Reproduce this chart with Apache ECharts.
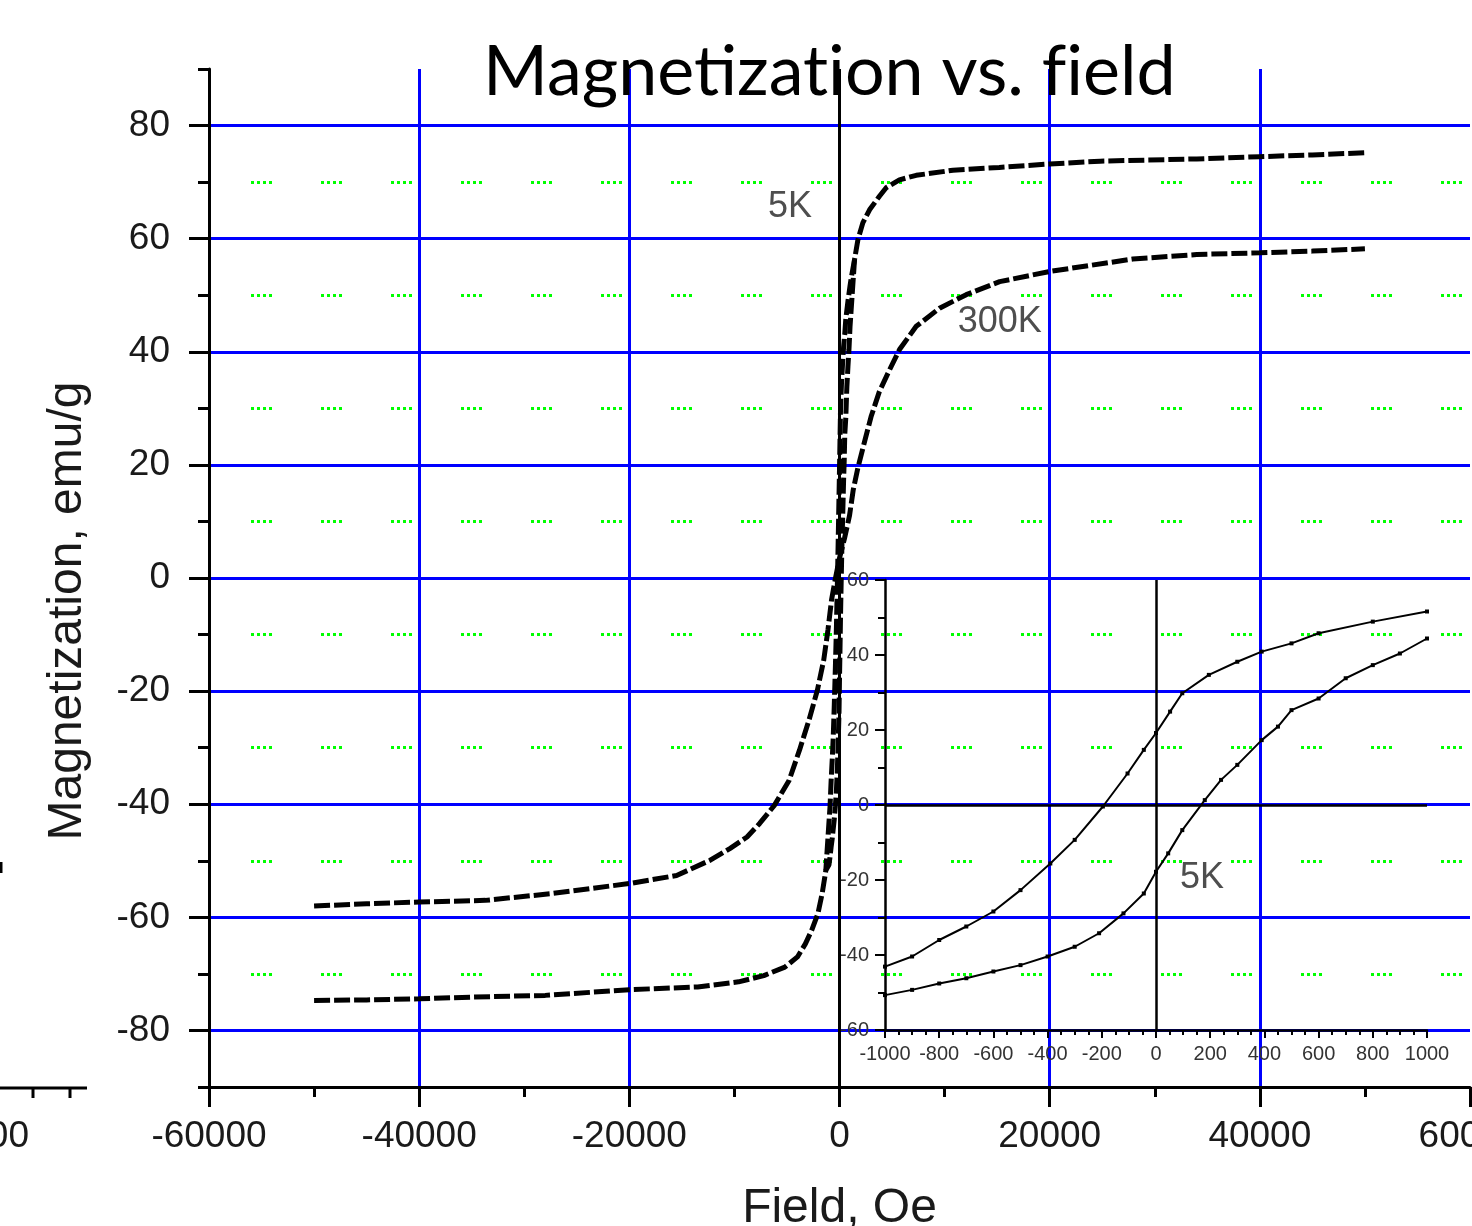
<!DOCTYPE html>
<html><head><meta charset="utf-8">
<script src="https://cdn.jsdelivr.net/npm/echarts@6/dist/echarts.min.js"></script>
<style>html,body{margin:0;padding:0;background:#fff}#c{width:1472px;height:1226px}</style>
</head><body><div id="c"></div>
<script>
// ---- tick values ----
const yMajorTicks = [-80, -60, -40, -20, 0, 20, 40, 60, 80];
const yMinorTicks = [-90, -70, -50, -30, -10, 10, 30, 50, 70, 90];

// ---- main panel: 5 K loop (far-field parts) ----
const m5kNeg = [[-50000,-74.7],[-45000,-74.6],[-40000,-74.4],[-35000,-74.1],[-28000,-73.8],[-20000,-72.8],[-13500,-72.3],[-9600,-71.4],[-7200,-70.3],[-5200,-68.8],[-4000,-67.0],[-3250,-64.7],[-2650,-62.3],[-2050,-59.3],[-1650,-55.8],[-1300,-51.7]];
const m5kPos = [[1430,56.3],[1750,59.8],[2220,62.8],[2860,65.1],[3800,67.5],[4440,69.0],[5700,70.4],[7300,71.2],[10800,72.1],[15200,72.6],[20000,73.2],[24800,73.7],[34000,74.1],[40000,74.5],[45000,74.8],[50000,75.2]];
const m5kDescTop = [[1430,56.3],[1110,53.0]];
const m5kDescBottom = [[-1300,-51.7]];

// ---- 5 K low-field loop (inset) ----
const inset5kAsc = [[-1000,-50.7],[-900,-49.3],[-800,-47.6],[-700,-46.2],[-600,-44.4],[-500,-42.7],[-400,-40.4],[-300,-37.8],[-210,-34.2],[-120,-28.9],[-45,-23.6],[0,-17.8],[45,-12.9],[97,-6.7],[180,1.3],[240,6.7],[300,10.7],[390,17.3],[450,20.9],[500,25.3],[600,28.4],[700,33.8],[800,37.3],[900,40.4],[1000,44.4]];
const inset5kDesc = [[1000,51.6],[800,48.9],[600,45.8],[500,43.1],[390,40.9],[300,38.2],[195,34.7],[97,29.8],[52,24.9],[0,19.2],[-45,14.7],[-105,8.4],[-196,-0.4],[-300,-9.3],[-390,-15.6],[-500,-22.7],[-600,-28.4],[-700,-32.4],[-800,-36.0],[-900,-40.4],[-1000,-43.1]];

// ---- main panel: 300 K ----
const m300k = [[-50000,-58],[-45000,-57.6],[-40000,-57.3],[-33700,-57],[-27400,-55.8],[-19900,-54],[-15500,-52.6],[-12300,-49.9],[-10400,-47.8],[-8800,-45.8],[-7600,-43.4],[-6200,-40.2],[-4800,-35.8],[-3800,-30.4],[-2900,-25.1],[-2100,-19.8],[-1500,-14.5],[-1100,-9.2],[-760,-3.9],[-380,0],[0,3.5],[476,7],[950,11],[1300,15.5],[1750,19.5],[2300,23.5],[3000,28.5],[3800,33],[4760,36.8],[5710,40.4],[7300,44.5],[9520,47.7],[12060,50.1],[15240,52.4],[20000,54.2],[27900,56.4],[34000,57.2],[40000,57.5],[45000,57.8],[50000,58.2]];

// ---- annotations (data coords) ----
const mainNotes = [[-4700, 65.5, '5K'], [15250, 45.3, '300K']];
const insetNotes = [[170, -19.5, '5K']];

const T = 'rgba(0,0,0,0)';
const LAB = '#1a1a1a';
const FF = '"Liberation Sans", Arial, sans-serif';

const chart = echarts.init(document.getElementById('c'), null, {renderer: 'canvas'});
const noteLabel = {show: true, position: 'inside', formatter: p => p.value[2], fontSize: 36, fontFamily: FF, color: '#222'};
const titleRun = {fontFamily: 'Lato, "Open Sans", sans-serif', fontWeight: 'normal', fontSize: 70, color: '#000'};
const option = {
  animation: false,
  backgroundColor: '#fff',
  title: {
    // split into runs so the font does not draw "ti"/"fi" ligatures
    text: '{t|Magnetizat}{t|ion vs. f}{t|ield}', left: 483, top: 37, padding: 0,
    textStyle: {fontFamily: titleRun.fontFamily, fontSize: 70, color: '#000', rich: {t: titleRun}}
  },
  grid: [
    {left: 209, right: 2, top: 69, bottom: 139, outerBoundsMode: 'none', containLabel: false},
    {left: 885, right: 45, top: 580, bottom: 196, outerBoundsMode: 'none', containLabel: false}
  ],
  xAxis: [
    {
      type: 'value', gridIndex: 0, position: 'bottom', min: -60000, max: 60000, interval: 20000, z: 1,
      name: 'Field, Oe', nameLocation: 'middle', nameGap: 98,
      nameTextStyle: {fontSize: 48, fontFamily: FF, color: LAB},
      axisLine: {onZero: false, lineStyle: {color: '#000', width: 3}},
      axisTick: {length: 20, lineStyle: {color: '#000', width: 3}},
      minorTick: {show: true, splitNumber: 2, length: 10, lineStyle: {color: '#000', width: 3}},
      axisLabel: {fontSize: 37, fontFamily: FF, color: LAB, margin: 31, formatter: v => String(v)},
      splitLine: {show: true, lineStyle: {color: [T, '#0000ff', '#0000ff', '#000000', '#0000ff', '#0000ff', T], width: 3}}
    },
    {
      type: 'value', gridIndex: 1, position: 'bottom', min: -1000, max: 1000, interval: 200, z: 2,
      axisLine: {onZero: false, lineStyle: {color: '#000', width: 2.5}},
      axisTick: {length: 8, lineStyle: {color: '#000', width: 2}},
      minorTick: {show: true, splitNumber: 4, length: 5, lineStyle: {color: '#000', width: 2}},
      axisLabel: {fontSize: 20, fontFamily: FF, color: '#333', margin: 14, formatter: v => String(v)},
      splitLine: {show: true, lineStyle: {color: [T, T, T, T, T, '#000', T, T, T, T, T], width: 2.5}}
    }
  ],
  yAxis: [
    {
      type: 'value', gridIndex: 0, position: 'left', offset: 0, min: -90, max: 90, z: 1,
      name: 'Magnetization, emu/g', nameLocation: 'middle', nameGap: 117,
      nameTextStyle: {fontSize: 48, fontFamily: FF, color: LAB, padding: [0, 66, 0, 0]},
      axisLine: {show: true, onZero: false, lineStyle: {color: '#000', width: 3}},
      axisTick: {show: true, length: 20, customValues: yMajorTicks, lineStyle: {color: '#000', width: 3}},
      axisLabel: {fontSize: 37, fontFamily: FF, color: LAB, margin: 39, customValues: yMajorTicks},
      splitLine: {show: false}
    },
    {
      type: 'value', gridIndex: 0, position: 'left', offset: 0, min: -90, max: 90, z: 1,
      axisLine: {show: false, onZero: false}, axisLabel: {show: false}, splitLine: {show: false},
      axisTick: {show: true, length: 11, customValues: yMinorTicks, lineStyle: {color: '#000', width: 3}}
    },
    {
      type: 'value', gridIndex: 0, position: 'left', offset: 0, min: -90, max: 90, interval: 10, z: 0,
      axisLine: {show: false, onZero: false}, axisLabel: {show: false}, axisTick: {show: false},
      splitLine: {show: true, lineStyle: {color: [T, '#0000ff'], width: 3}}
    },
    {
      type: 'value', gridIndex: 0, position: 'left', offset: 0, min: -90, max: 90, interval: 10, z: 0,
      axisLine: {show: false, onZero: false}, axisLabel: {show: false}, axisTick: {show: false},
      splitLine: {show: true, showMaxLine: false, lineStyle: {color: ['#00ff00', T], width: 3, type: [3, 3, 3, 3, 3, 3, 3, 49], dashOffset: 28}}
    },
    {
      type: 'value', gridIndex: 1, position: 'left', offset: 0, min: -60, max: 60, interval: 20, z: 2,
      axisLine: {onZero: false, lineStyle: {color: '#000', width: 2.5}},
      axisTick: {length: 10, lineStyle: {color: '#000', width: 2}},
      minorTick: {show: true, splitNumber: 2, length: 7, lineStyle: {color: '#000', width: 2}},
      axisLabel: {fontSize: 20, fontFamily: FF, color: '#333', margin: 16},
      splitLine: {show: true, lineStyle: {color: [T, T, T, '#000', T, T, T], width: 2.5}}
    }
  ],
  series: [
    {type: 'line', name: '300K', xAxisIndex: 0, yAxisIndex: 0, data: m300k, symbol: 'none', z: 3,
     lineStyle: {color: '#000', width: 5, type: [16, 4]}},
    {type: 'line', name: '5K asc', xAxisIndex: 0, yAxisIndex: 0, data: m5kNeg.concat(inset5kAsc, m5kPos), symbol: 'none', z: 3,
     lineStyle: {color: '#000', width: 5, type: [16, 4]}},
    {type: 'line', name: '5K desc', xAxisIndex: 0, yAxisIndex: 0, data: m5kDescTop.concat(inset5kDesc, m5kDescBottom), symbol: 'none', z: 3,
     lineStyle: {color: '#000', width: 5, type: [16, 4]}},
    {type: 'line', name: 'inset asc', xAxisIndex: 1, yAxisIndex: 4, data: inset5kAsc, symbol: 'rect', symbolSize: 4, showSymbol: true, showAllSymbol: true, z: 4,
     itemStyle: {color: '#000'}, lineStyle: {color: '#000', width: 2}},
    {type: 'line', name: 'inset desc', xAxisIndex: 1, yAxisIndex: 4, data: inset5kDesc, symbol: 'rect', symbolSize: 4, showSymbol: true, showAllSymbol: true, z: 4,
     itemStyle: {color: '#000'}, lineStyle: {color: '#000', width: 2}},
    {type: 'scatter', xAxisIndex: 0, yAxisIndex: 0, data: mainNotes, symbolSize: 1, itemStyle: {color: T}, label: noteLabel, z: 5, silent: true},
    {type: 'scatter', xAxisIndex: 1, yAxisIndex: 4, data: insetNotes, symbolSize: 1, itemStyle: {color: T}, label: noteLabel, z: 5, silent: true}
  ],
  graphic: [
    {type: 'line', shape: {x1: 0, y1: 1088, x2: 87, y2: 1088}, style: {stroke: '#000', lineWidth: 3}},
    {type: 'line', shape: {x1: 33, y1: 1088, x2: 33, y2: 1098}, style: {stroke: '#000', lineWidth: 3}},
    {type: 'line', shape: {x1: 70, y1: 1088, x2: 70, y2: 1098}, style: {stroke: '#000', lineWidth: 3}},
    {type: 'line', shape: {x1: 1, y1: 862, x2: 1, y2: 873}, style: {stroke: '#000', lineWidth: 3}},
    {type: 'text', x: 29, y: 1137, style: {text: '000', font: '37px "Liberation Sans", Arial', fill: LAB, textAlign: 'right', textVerticalAlign: 'middle'}}
  ]
};
chart.setOption(option);
</script>
</body></html>
